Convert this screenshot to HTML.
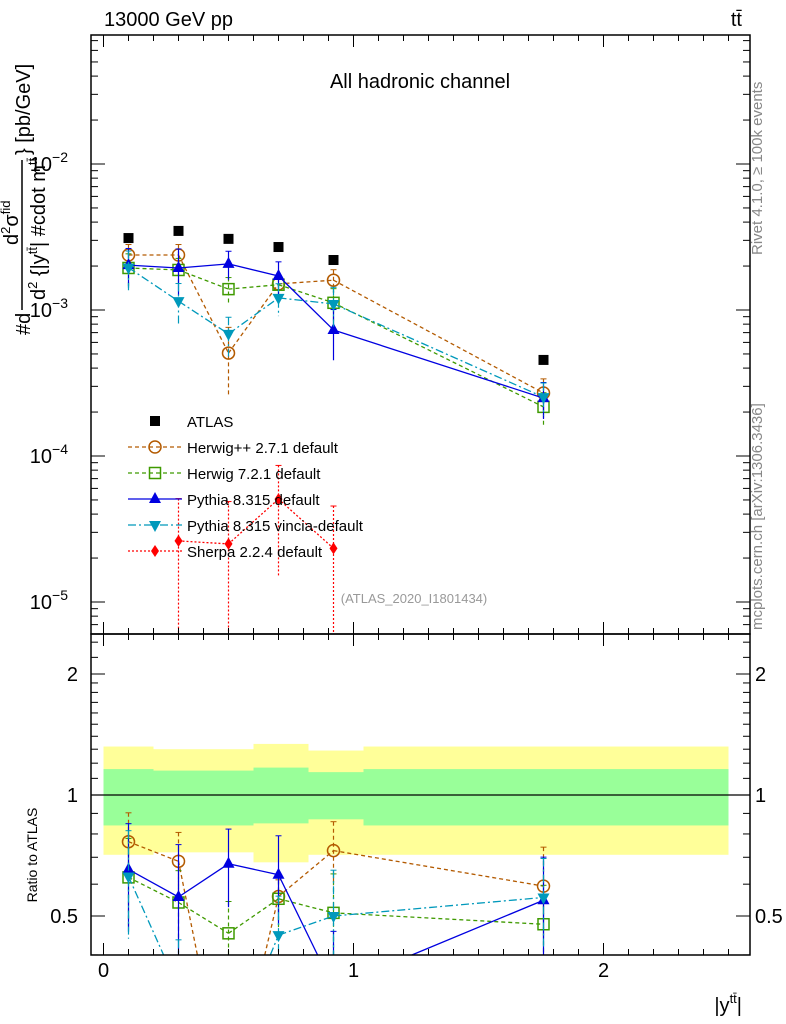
<!DOCTYPE html>
<html><head><meta charset="utf-8"><style>
html,body{margin:0;padding:0;background:#fff;overflow:hidden;width:786px;height:1024px}
svg{display:block;font-family:"Liberation Sans",sans-serif}
</style></head><body>
<svg id="c" width="786" height="1024" viewBox="0 0 786 1024" xmlns="http://www.w3.org/2000/svg">
<g id="bands"></g>
<g id="gm"></g>
<g id="gr"></g>
<g id="axes"></g>
<text x="104" y="26" font-size="20">13000 GeV pp</text>
<text x="742" y="26" font-size="20" text-anchor="end">tt̄</text>
<text x="420" y="88" font-size="20" text-anchor="middle">All hadronic channel</text>
<text x="414" y="603" font-size="13" fill="#999" text-anchor="middle">(ATLAS_2020_I1801434)</text>
<text transform="translate(762,255) rotate(-90)" font-size="15" fill="#888">Rivet 4.1.0, ≥ 100k events</text>
<text transform="translate(762,630) rotate(-90)" font-size="15" fill="#888">mcplots.cern.ch [arXiv:1306.3436]</text>
<g font-size="20">
<text transform="translate(30,335) rotate(-90)">#d</text>
<line x1="22" y1="310" x2="22" y2="160" stroke="#000" stroke-width="1.5"/>
<text transform="translate(45,300) rotate(-90)">d<tspan font-size="13" dy="-8">2</tspan><tspan dy="8"> {|y</tspan><tspan font-size="13" dy="-8">tt̄</tspan><tspan dy="8">| #cdot m</tspan><tspan font-size="13" dy="-8">tt̄</tspan></text>
<text transform="translate(18,245) rotate(-90)">d<tspan font-size="13" dy="-8">2</tspan><tspan dy="8">σ</tspan><tspan font-size="13" dy="-8">fid</tspan></text>
<text transform="translate(30,155) rotate(-90)">} [pb/GeV]</text>
</g>
<text transform="translate(37,855) rotate(-90)" font-size="14" text-anchor="middle">Ratio to ATLAS</text>
<text x="742" y="1012" font-size="20" text-anchor="end">|y<tspan font-size="13" dy="-9">tt̄</tspan><tspan dy="9">|</tspan></text>
<g id="legend"></g>
</svg>
<script>
const xs=[0.1,0.3,0.5,0.7,0.92,1.76];
const edges=[0,0.2,0.4,0.6,0.82,1.04,2.5];
const atlas=[3.11e-3,3.48e-3,3.07e-3,2.70e-3,2.20e-3,4.55e-4];
const herwigpp=[2.38e-3,2.38e-3,5.07e-4,1.51e-3,1.60e-3,2.70e-4];
const herwigppErr=[0.18,0.18,0.5,0.1,0.18,0.25];
const herwig7=[1.94e-3,1.88e-3,1.39e-3,1.49e-3,1.12e-3,2.17e-4];
const herwig7Err=[0.25,0.2,0.2,0.15,0.25,0.25];
const pythia=[2.03e-3,1.94e-3,2.07e-3,1.71e-3,7.3e-4,2.49e-4];
const pythiaErr=[0.3,0.35,0.22,0.25,0.38,0.28];
const vincia=[1.95e-3,1.15e-3,6.86e-4,1.21e-3,1.10e-3,2.53e-4];
const vinciaErr=[0.3,0.32,0.3,0.25,0.3,0.25];
const sherpaX=[0.3,0.5,0.7,0.92];
const sherpa=[2.62e-5,2.5e-5,5.07e-5,2.33e-5];
const sherpaErr=[0.95,0.95,0.7,0.95];
const yellowHi=[1.32,1.30,1.30,1.34,1.29,1.32];
const yellowLo=[0.71,0.72,0.72,0.68,0.71,0.71];
const greenHi=[1.16,1.15,1.15,1.17,1.14,1.16];
const greenLo=[0.84,0.84,0.84,0.85,0.87,0.84];

const NS="http://www.w3.org/2000/svg";
const X=v=>103.5+250*v;
const Y=v=>164-146*(Math.log10(v)+2);
const R=v=>795-121*Math.log2(v);
const MAIN=[35,634],RAT=[634,955];
const clamp=(v,a,b)=>Math.max(a,Math.min(b,v));
function el(p,t,a){const e=document.createElementNS(NS,t);for(const k in a)e.setAttribute(k,a[k]);p.appendChild(e);return e;}
const gm=document.getElementById('gm'),gr=document.getElementById('gr'),bands=document.getElementById('bands'),ax=document.getElementById('axes'),lg=document.getElementById('legend');

for(let i=0;i<xs.length;i++){
 const x0=X(edges[i]),x1=X(edges[i+1]);
 const y=el(bands,'rect',{x:x0,y:R(yellowHi[i]),width:x1-x0,height:R(yellowLo[i])-R(yellowHi[i]),fill:'#ffff99'});
 
 
 const g=el(bands,'rect',{x:x0,y:R(greenHi[i]),width:x1-x0,height:R(greenLo[i])-R(greenHi[i]),fill:'#99ff99'});
 
 
}
const one=el(bands,'line',{x1:91,x2:750,y1:R(1),y2:R(1),stroke:'#000','stroke-width':1.2});



function marker(p,type,x,y,col){
 let m;
 if(type==='sq') m=el(p,'rect',{x:x-5,y:y-5,width:10,height:10,fill:'#000'});
 else if(type==='osq') m=el(p,'rect',{x:x-5.5,y:y-5.5,width:11,height:11,fill:'none',stroke:col,'stroke-width':1.5});
 else if(type==='oc') m=el(p,'circle',{cx:x,cy:y,r:6,fill:'none',stroke:col,'stroke-width':1.5});
 else if(type==='ut') m=el(p,'path',{d:`M${x} ${y-7}L${x+6} ${y+4}L${x-6} ${y+4}Z`,fill:col});
 else if(type==='dt') m=el(p,'path',{d:`M${x} ${y+7}L${x+6} ${y-4}L${x-6} ${y-4}Z`,fill:col});
 else if(type==='di') m=el(p,'path',{d:`M${x} ${y-6}L${x+4} ${y}L${x} ${y+6}L${x-4} ${y}Z`,fill:col});
 return m;
}
function clipSeg(x1,y1,x2,y2,lo,hi){
 let t0=0,t1=1;const dy=y2-y1;
 if(dy===0){if(y1<lo||y1>hi)return null;}
 else{let ta=(lo-y1)/dy,tb=(hi-y1)/dy;if(ta>tb)[ta,tb]=[tb,ta];t0=Math.max(t0,ta);t1=Math.min(t1,tb);if(t0>t1)return null;}
 return [x1+(x2-x1)*t0,y1+dy*t0,x1+(x2-x1)*t1,y1+dy*t1];
}
function series(name,xv,vals,errs,col,dash,type,ratio){
 const p=ratio?gr:gm;
 const [lo,hi]=ratio?RAT:MAIN;
 const Yf=ratio?(i=>R(vals[i]/atlas[xs.indexOf(xv[i])])):(i=>Y(vals[i]));
 let d='';
 for(let i=0;i+1<xv.length;i++){
  const s=clipSeg(X(xv[i]),Yf(i),X(xv[i+1]),Yf(i+1),lo,hi);
  if(s)d+=`M${s[0]} ${s[1]}L${s[2]} ${s[3]}`;
 }
 if(d){
 const l=el(p,'path',{d:d,fill:'none',stroke:col,'stroke-width':1.3,'stroke-dasharray':dash});
 
 
 }
 xv.forEach((x,i)=>{
  const v=ratio?vals[i]/atlas[xs.indexOf(x)]:vals[i];
  const T=ratio?R:Y;
  const top=T(v*(1+errs[i])),bot=T(Math.max(v*(1-errs[i]),1e-12));
  const yt=clamp(top,lo,hi),yb=clamp(bot,lo,hi);
  if(yb>yt){
  const e=el(p,'line',{x1:X(x),x2:X(x),y1:yt,y2:yb,stroke:col,'stroke-width':1.2,'stroke-dasharray':dash});
  
  
  if(top>=lo)el(p,'line',{x1:X(x)-3,x2:X(x)+3,y1:top,y2:top,stroke:col,'stroke-width':1});
  }
  const ym=Yf(i);
  if(ym>=lo&&ym<=hi){
  const m=marker(p,type,X(x),ym,col);
  
  
  }
 });
}
atlas.forEach((v,i)=>{const m=marker(gm,'sq',X(xs[i]),Y(v),'#000');
 
 });
const S=[['herwigpp',herwigpp,herwigppErr,'#b35a00','4,3','oc'],
 ['herwig7',herwig7,herwig7Err,'#3f9a00','4,3','osq'],
 ['pythia',pythia,pythiaErr,'#0000e0','','ut'],
 ['vincia',vincia,vinciaErr,'#0099bb','8,3,2,3','dt']];
S.forEach(s=>{series(s[0],xs,s[1],s[2],s[3],s[4],s[5],false);series(s[0],xs,s[1],s[2],s[3],s[4],s[5],true);});
series('sherpa',sherpaX,sherpa,sherpaErr,'#ff0000','2,2','di',false);

const L=[['ATLAS','#000','','sq'],['Herwig++ 2.7.1 default','#b35a00','4,3','oc'],['Herwig 7.2.1 default','#3f9a00','4,3','osq'],
['Pythia 8.315 default','#0000e0','','ut'],['Pythia 8.315 vincia-default','#0099bb','8,3,2,3','dt'],['Sherpa 2.2.4 default','#ff0000','2,2','di']];
L.forEach((e,i)=>{const y=421+26*i;
 const g=el(lg,'g',{});
 
 
 if(i>0)el(g,'line',{x1:128,x2:182,y1:y,y2:y,stroke:e[1],'stroke-width':1.3,'stroke-dasharray':e[2]});
 marker(g,e[3],155,y,e[1]);
 const t=el(g,'text',{x:187,y:y+6,'font-size':15});t.textContent=e[0];
});

function line(x1,y1,x2,y2,w){el(ax,'line',{x1,y1,x2,y2,stroke:'#000','stroke-width':w||1});}
const fm=el(ax,'rect',{x:91,y:35,width:659,height:599,fill:'none',stroke:'#000','stroke-width':1.5});

const fr=el(ax,'rect',{x:91,y:634,width:659,height:321,fill:'none',stroke:'#000','stroke-width':1.5});

for(let k=0;k<=25;k++){const v=k/10,x=X(v),L=(k%10===0)?12:6;
 [[35,1],[634,-1],[634,1],[955,-1]].forEach(([y,s])=>line(x,y,x,y+s*L));}
[0,1,2].forEach(v=>{const t=el(ax,'text',{x:X(v),y:977,'font-size':20,'text-anchor':'middle'});t.textContent=v;
 });
for(let e=-6;e<=-1;e++)for(let m=1;m<10;m++){const y=Y(m*Math.pow(10,e));if(y<35||y>634)continue;const L=m===1?14:7;line(91,y,91+L,y);line(750,y,750-L,y);}
[-2,-3,-4,-5].forEach(e=>{const t=el(ax,'text',{x:68,y:Y(Math.pow(10,e))+7,'font-size':20,'text-anchor':'end'});
 t.innerHTML='10<tspan font-size="14" dy="-9">−'+(-e)+'</tspan>';
 });
[0.4,0.5,0.6,0.7,0.8,0.9,1,2].forEach(v=>{const y=R(v);const L=(v===0.5||v===1||v===2)?14:7;line(91,y,91+L,y);line(750,y,750-L,y);});
[1.1,1.2,1.3,1.4,1.5,1.6,1.7,1.8,1.9,2.2,2.4].forEach(v=>{const y=R(v);line(91,y,98,y);line(750,y,743,y);});
[[2,'2'],[1,'1'],[0.5,'0.5']].forEach(([v,s])=>{
 let t=el(ax,'text',{x:78,y:R(v)+7,'font-size':20,'text-anchor':'end'});t.textContent=s;
 
 t=el(ax,'text',{x:755,y:R(v)+7,'font-size':20});t.textContent=s;
 });
</script>
</body></html>
